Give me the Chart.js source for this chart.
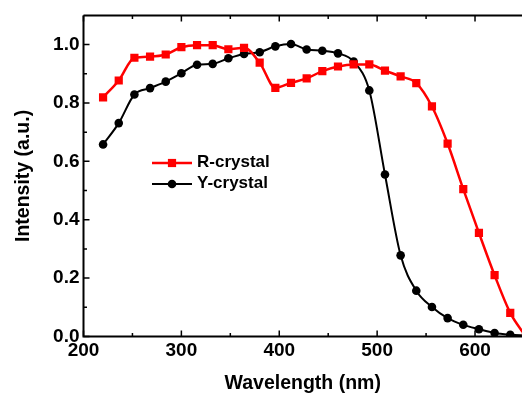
<!DOCTYPE html>
<html>
<head>
<meta charset="utf-8">
<script src="https://cdn.jsdelivr.net/npm/chart.js@4.4.1/dist/chart.umd.min.js"></script>
<style>
    html, body { margin: 0; padding: 0; background: #fff; overflow: hidden; }
    canvas { display: block; }
</style>
</head>
<body>
<canvas id="grafico" width="522" height="398"></canvas>
<script>
// wavelength (nm) of each measured point
const comprimentos = [220, 236, 252, 268, 284, 300, 316, 332, 348, 364, 380, 396, 412, 428,
    444, 460, 476, 492, 508, 524, 540, 556, 572, 588, 604, 620, 636, 652];

const rCristal = [0.819, 0.877, 0.955, 0.959, 0.966, 0.991, 0.998, 0.998, 0.984, 0.989, 0.938, 0.852, 0.869, 0.884,
    0.909, 0.925, 0.932, 0.932, 0.911, 0.891, 0.868, 0.788, 0.661, 0.505, 0.355, 0.210, 0.081, 0.0];

const yCristal = [0.658, 0.731, 0.829, 0.851, 0.873, 0.902, 0.931, 0.934, 0.953, 0.968, 0.974, 0.994, 1.002, 0.983,
    0.979, 0.970, 0.942, 0.843, 0.555, 0.278, 0.157, 0.101, 0.063, 0.040, 0.025, 0.012, 0.006, 0.003];

const ticksX = [200, 300, 400, 500, 600];
const ticksXMenores = [250, 350, 450, 550];
const ticksY = [0, 0.2, 0.4, 0.6, 0.8, 1.0];
const ticksYMenores = [0.1, 0.3, 0.5, 0.7, 0.9];

const fonte = 'Liberation Sans, Arial, sans-serif';

const pontos = (valores) => comprimentos.map((x, i) => ({ x: x, y: valores[i] }));

// inward tick marks, frame lines and the legend
const eixosPlugin = {
    id: 'eixos',
    afterDraw(chart) {
        const ctx = chart.ctx;
        const area = chart.chartArea;
        const x = chart.scales.x;
        const y = chart.scales.y;
        ctx.save();
        ctx.strokeStyle = '#000';
        ctx.lineWidth = 2;
        ctx.beginPath();
        ctx.moveTo(area.left, area.top);
        ctx.lineTo(area.left, area.bottom);
        ctx.lineTo(area.right, area.bottom);
        ctx.moveTo(area.left, area.top);
        ctx.lineTo(area.right, area.top);
        ctx.stroke();

        ctx.lineWidth = 1.5;
        ctx.beginPath();
        const marcaX = (v, len) => {
            const px = x.getPixelForValue(v);
            ctx.moveTo(px, area.bottom);
            ctx.lineTo(px, area.bottom - len);
            ctx.moveTo(px, area.top);
            ctx.lineTo(px, area.top + len);
        };
        const marcaY = (v, len) => {
            const py = y.getPixelForValue(v);
            ctx.moveTo(area.left, py);
            ctx.lineTo(area.left + len, py);
        };
        ticksX.forEach(v => marcaX(v, 6));
        ticksXMenores.forEach(v => marcaX(v, 3.5));
        ticksY.forEach(v => marcaY(v, 6));
        ticksYMenores.forEach(v => marcaY(v, 3.5));
        ctx.stroke();

        // legend
        chart.data.datasets.forEach((ds, i) => {
            const ly = 163 + i * 21;
            ctx.strokeStyle = ds.borderColor;
            ctx.fillStyle = ds.backgroundColor;
            ctx.lineWidth = ds.borderWidth;
            ctx.beginPath();
            ctx.moveTo(152, ly);
            ctx.lineTo(192, ly);
            ctx.stroke();
            ctx.lineWidth = 0;
            Chart.helpers.drawPoint(ctx, {
                pointStyle: ds.pointStyle,
                radius: ds.pointRadius,
                borderWidth: 0
            }, 172, ly);
            ctx.fillStyle = '#000';
            ctx.font = 'bold 17px ' + fonte;
            ctx.textAlign = 'left';
            ctx.textBaseline = 'middle';
            ctx.fillText(ds.label, 197, ly - 1);
        });
        ctx.restore();
    }
};

const grafico = new Chart(document.getElementById('grafico'), {
    type: 'line',
    data: {
        datasets: [{
            label: 'R-crystal',
            data: pontos(rCristal),
            borderColor: '#ff0000',
            backgroundColor: '#ff0000',
            borderWidth: 2.5,
            pointStyle: 'rect',
            pointRadius: 5.8,
            pointBorderWidth: 0,
            cubicInterpolationMode: 'monotone'
        }, {
            label: 'Y-crystal',
            data: pontos(yCristal),
            borderColor: '#000000',
            backgroundColor: '#000000',
            borderWidth: 2,
            pointStyle: 'circle',
            pointRadius: 4.3,
            pointBorderWidth: 0,
            cubicInterpolationMode: 'monotone'
        }]
    },
    options: {
        responsive: false,
        animation: false,
        devicePixelRatio: 1,
        layout: { autoPadding: false, padding: { top: 14, right: 0, left: 0, bottom: 0 } },
        plugins: {
            legend: { display: false },
            tooltip: { enabled: false }
        },
        scales: {
            x: {
                type: 'linear',
                min: 200,
                max: 648,
                afterFit: (s) => { s.height = 61.5; s.paddingRight = 0; },
                afterBuildTicks: (s) => { s.ticks = ticksX.map(v => ({ value: v })); },
                grid: { display: false, drawTicks: false },
                border: { display: false },
                ticks: {
                    color: '#000',
                    padding: 3,
                    maxRotation: 0,
                    font: { family: fonte, size: 19, weight: 'bold' }
                },
                title: {
                    display: true,
                    text: 'Wavelength (nm)',
                    color: '#000',
                    padding: { top: 0, bottom: 3 },
                    font: { family: fonte, size: 19.5, weight: 'bold' }
                }
            },
            y: {
                min: 0,
                max: 1.1,
                afterFit: (s) => { s.width = 83.5; },
                afterBuildTicks: (s) => { s.ticks = ticksY.map(v => ({ value: v })); },
                grid: { display: false, drawTicks: false },
                border: { display: false },
                ticks: {
                    color: '#000',
                    padding: 4,
                    callback: (v) => Number(v).toFixed(1),
                    font: { family: fonte, size: 19, weight: 'bold' }
                },
                title: {
                    display: true,
                    text: 'Intensity (a.u.)',
                    color: '#000',
                    padding: { top: 12, bottom: 0 },
                    font: { family: fonte, size: 19.5, weight: 'bold' }
                }
            }
        }
    },
    plugins: [eixosPlugin]
});
</script>
</body>
</html>
